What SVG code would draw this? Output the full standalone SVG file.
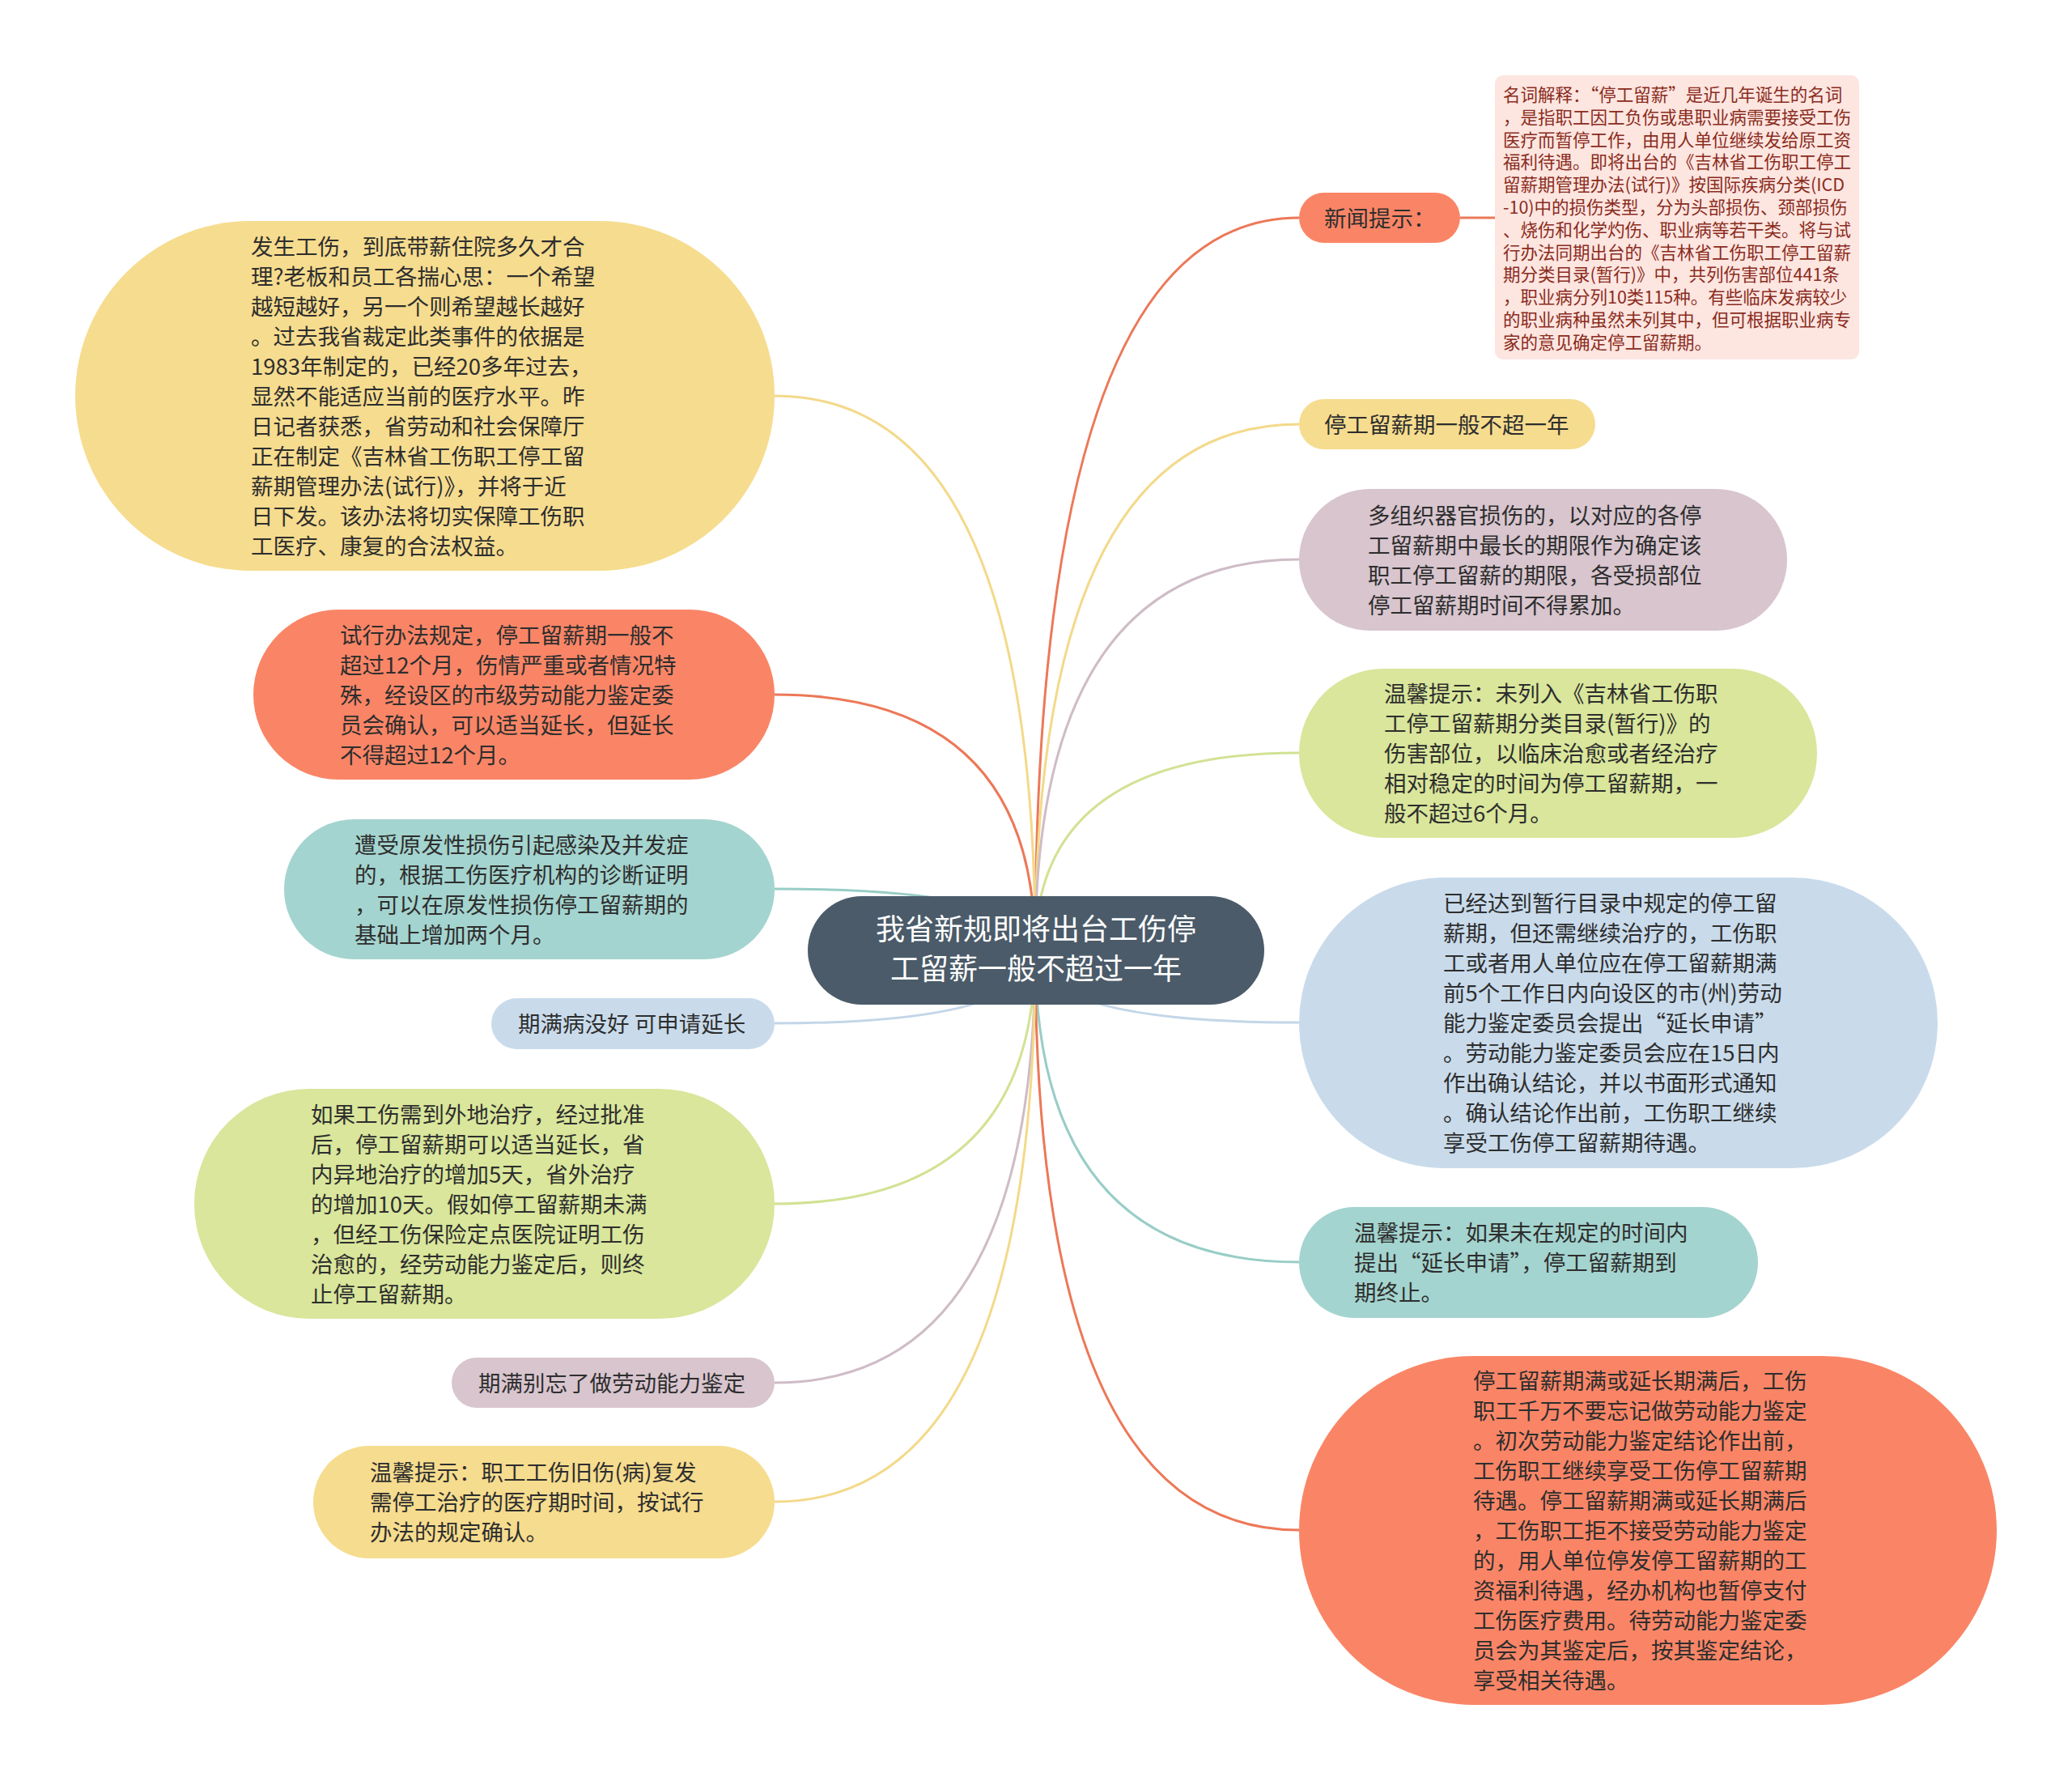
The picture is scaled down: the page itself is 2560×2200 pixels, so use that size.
<svg xmlns="http://www.w3.org/2000/svg" width="2560" height="2200" viewBox="0 0 2560 2200">
<style>
text{font-family:"Noto Sans CJK SC","Microsoft YaHei",sans-serif;}
.t{font-size:27.5px;fill:#2e2e2e;}
.n{font-size:21.5px;fill:#8a2c1d;}
.c{font-size:36px;fill:#ffffff;text-anchor:middle;}
.ln{fill:none;stroke-width:3;}
.or{fill:#fa8566;}.ye{fill:#f6dc8e;}.mv{fill:#d8c5ce;}.gr{fill:#d9e69b;}.bl{fill:#c9dbeb;}.tl{fill:#a4d4cf;}
.sor{stroke:#ec7858;}.sye{stroke:#f3d98a;}.smv{stroke:#cfbcc6;}.sgr{stroke:#d2e294;}.sbl{stroke:#c3d6e8;}.stl{stroke:#98cdc6;}
</style>
<rect x="0" y="0" width="2560" height="2200" fill="#ffffff"/>
<g id="connectors">
<path class="ln sor" d="M1279,1174 Q1279,269 1605,269"/>
<path class="ln sor" d="M1804,269 L1847,269"/>
<path class="ln sye" d="M1279,1174 Q1279,524 1605,524"/>
<path class="ln smv" d="M1279,1174 Q1279,691 1605,691"/>
<path class="ln sgr" d="M1279,1174 Q1279,930 1605,930"/>
<path class="ln sbl" d="M1279,1174 Q1279,1263 1605,1263"/>
<path class="ln stl" d="M1279,1174 Q1279,1559 1605,1559"/>
<path class="ln sor" d="M1279,1174 Q1279,1890 1605,1890"/>
<path class="ln sye" d="M1279,1174 Q1279,489 957,489"/>
<path class="ln sor" d="M1279,1174 Q1279,858 957,858"/>
<path class="ln stl" d="M1279,1174 Q1279,1098 957,1098"/>
<path class="ln sbl" d="M1279,1174 Q1279,1264 957,1264"/>
<path class="ln sgr" d="M1279,1174 Q1279,1487 957,1487"/>
<path class="ln smv" d="M1279,1174 Q1279,1708 957,1708"/>
<path class="ln sye" d="M1279,1174 Q1279,1855 957,1855"/>
</g>
<g id="center">
<rect x="998" y="1107" width="564" height="134" rx="67" fill="#4b5b69"/>
<text class="c" x="1280" y="1161">我省新规即将出台工伤停</text>
<text class="c" x="1280" y="1210">工留薪一般不超过一年</text>
</g>
<g id="news">
<rect class="or" x="1605" y="238" width="199" height="62" rx="31"/>
<text class="t" x="1636" y="279.5">新闻提示：</text>
</g>
<g id="news-note">
<rect x="1847" y="93" width="450" height="351" rx="10" fill="#fde5e0"/>
<text class="n" x="1857" y="125">名词解释：“停工留薪”是近几年诞生的名词<tspan x="1857" dy="27.8">，是指职工因工负伤或患职业病需要接受工伤</tspan><tspan x="1857" dy="27.8">医疗而暂停工作，由用人单位继续发给原工资</tspan><tspan x="1857" dy="27.8">福利待遇。即将出台的《吉林省工伤职工停工</tspan><tspan x="1857" dy="27.8">留薪期管理办法(试行)》按国际疾病分类(ICD</tspan><tspan x="1857" dy="27.8">-10)中的损伤类型，分为头部损伤、颈部损伤</tspan><tspan x="1857" dy="27.8">、烧伤和化学灼伤、职业病等若干类。将与试</tspan><tspan x="1857" dy="27.8">行办法同期出台的《吉林省工伤职工停工留薪</tspan><tspan x="1857" dy="27.8">期分类目录(暂行)》中，共列伤害部位441条</tspan><tspan x="1857" dy="27.8">，职业病分列10类115种。有些临床发病较少</tspan><tspan x="1857" dy="27.8">的职业病种虽然未列其中，但可根据职业病专</tspan><tspan x="1857" dy="27.8">家的意见确定停工留薪期。</tspan></text>
</g>
<g id="r2">
<rect class="ye" x="1605" y="493" width="366" height="62" rx="31"/>
<text class="t" x="1636" y="534.5">停工留薪期一般不超一年</text>
</g>
<g id="r3">
<rect class="mv" x="1605" y="604" width="603" height="175" rx="87.5"/>
<text class="t" x="1690" y="646.5">多组织器官损伤的，以对应的各停<tspan x="1690" dy="37">工留薪期中最长的期限作为确定该</tspan><tspan x="1690" dy="37">职工停工留薪的期限，各受损部位</tspan><tspan x="1690" dy="37">停工留薪期时间不得累加。</tspan></text>
</g>
<g id="r4">
<rect class="gr" x="1605" y="826" width="640" height="209" rx="104.5"/>
<text class="t" x="1710" y="867">温馨提示：未列入《吉林省工伤职<tspan x="1710" dy="37">工停工留薪期分类目录(暂行)》的</tspan><tspan x="1710" dy="37">伤害部位，以临床治愈或者经治疗</tspan><tspan x="1710" dy="37">相对稳定的时间为停工留薪期，一</tspan><tspan x="1710" dy="37">般不超过6个月。</tspan></text>
</g>
<g id="r5">
<rect class="bl" x="1605" y="1084" width="789" height="359" rx="179.5"/>
<text class="t" x="1783" y="1126">已经达到暂行目录中规定的停工留<tspan x="1783" dy="37">薪期，但还需继续治疗的，工伤职</tspan><tspan x="1783" dy="37">工或者用人单位应在停工留薪期满</tspan><tspan x="1783" dy="37">前5个工作日内向设区的市(州)劳动</tspan><tspan x="1783" dy="37">能力鉴定委员会提出“延长申请”</tspan><tspan x="1783" dy="37">。劳动能力鉴定委员会应在15日内</tspan><tspan x="1783" dy="37">作出确认结论，并以书面形式通知</tspan><tspan x="1783" dy="37">。确认结论作出前，工伤职工继续</tspan><tspan x="1783" dy="37">享受工伤停工留薪期待遇。</tspan></text>
</g>
<g id="r6">
<rect class="tl" x="1605" y="1491" width="567" height="137" rx="68.5"/>
<text class="t" x="1673" y="1533">温馨提示：如果未在规定的时间内<tspan x="1673" dy="37">提出“延长申请”，停工留薪期到</tspan><tspan x="1673" dy="37">期终止。</tspan></text>
</g>
<g id="r7">
<rect class="or" x="1605" y="1675" width="862" height="431" rx="215.5"/>
<text class="t" x="1820" y="1716">停工留薪期满或延长期满后，工伤<tspan x="1820" dy="37">职工千万不要忘记做劳动能力鉴定</tspan><tspan x="1820" dy="37">。初次劳动能力鉴定结论作出前，</tspan><tspan x="1820" dy="37">工伤职工继续享受工伤停工留薪期</tspan><tspan x="1820" dy="37">待遇。停工留薪期满或延长期满后</tspan><tspan x="1820" dy="37">，工伤职工拒不接受劳动能力鉴定</tspan><tspan x="1820" dy="37">的，用人单位停发停工留薪期的工</tspan><tspan x="1820" dy="37">资福利待遇，经办机构也暂停支付</tspan><tspan x="1820" dy="37">工伤医疗费用。待劳动能力鉴定委</tspan><tspan x="1820" dy="37">员会为其鉴定后，按其鉴定结论，</tspan><tspan x="1820" dy="37">享受相关待遇。</tspan></text>
</g>
<g id="l1">
<rect class="ye" x="93" y="273" width="864" height="432" rx="216"/>
<text class="t" x="310" y="314.5">发生工伤，到底带薪住院多久才合<tspan x="310" dy="37">理?老板和员工各揣心思：一个希望</tspan><tspan x="310" dy="37">越短越好，另一个则希望越长越好</tspan><tspan x="310" dy="37">。过去我省裁定此类事件的依据是</tspan><tspan x="310" dy="37">1983年制定的，已经20多年过去，</tspan><tspan x="310" dy="37">显然不能适应当前的医疗水平。昨</tspan><tspan x="310" dy="37">日记者获悉，省劳动和社会保障厅</tspan><tspan x="310" dy="37">正在制定《吉林省工伤职工停工留</tspan><tspan x="310" dy="37">薪期管理办法(试行)》，并将于近</tspan><tspan x="310" dy="37">日下发。该办法将切实保障工伤职</tspan><tspan x="310" dy="37">工医疗、康复的合法权益。</tspan></text>
</g>
<g id="l2">
<rect class="or" x="313" y="753" width="644" height="210" rx="105"/>
<text class="t" x="420" y="794.5">试行办法规定，停工留薪期一般不<tspan x="420" dy="37">超过12个月，伤情严重或者情况特</tspan><tspan x="420" dy="37">殊，经设区的市级劳动能力鉴定委</tspan><tspan x="420" dy="37">员会确认，可以适当延长，但延长</tspan><tspan x="420" dy="37">不得超过12个月。</tspan></text>
</g>
<g id="l3">
<rect class="tl" x="351" y="1012" width="606" height="173" rx="86.5"/>
<text class="t" x="438" y="1053.5">遭受原发性损伤引起感染及并发症<tspan x="438" dy="37">的，根据工伤医疗机构的诊断证明</tspan><tspan x="438" dy="37">，可以在原发性损伤停工留薪期的</tspan><tspan x="438" dy="37">基础上增加两个月。</tspan></text>
</g>
<g id="l4">
<rect class="bl" x="607" y="1233" width="350" height="63" rx="31.5"/>
<text class="t" x="640" y="1275">期满病没好 可申请延长</text>
</g>
<g id="l5">
<rect class="gr" x="240" y="1345" width="717" height="284" rx="142"/>
<text class="t" x="384" y="1386.5">如果工伤需到外地治疗，经过批准<tspan x="384" dy="37">后，停工留薪期可以适当延长，省</tspan><tspan x="384" dy="37">内异地治疗的增加5天，省外治疗</tspan><tspan x="384" dy="37">的增加10天。假如停工留薪期未满</tspan><tspan x="384" dy="37">，但经工伤保险定点医院证明工伤</tspan><tspan x="384" dy="37">治愈的，经劳动能力鉴定后，则终</tspan><tspan x="384" dy="37">止停工留薪期。</tspan></text>
</g>
<g id="l6">
<rect class="mv" x="558" y="1677" width="399" height="62" rx="31"/>
<text class="t" x="591" y="1718.5">期满别忘了做劳动能力鉴定</text>
</g>
<g id="l7">
<rect class="ye" x="387" y="1786" width="570" height="139" rx="69.5"/>
<text class="t" x="457" y="1829">温馨提示：职工工伤旧伤(病)复发<tspan x="457" dy="37">需停工治疗的医疗期时间，按试行</tspan><tspan x="457" dy="37">办法的规定确认。</tspan></text>
</g>
</svg>
